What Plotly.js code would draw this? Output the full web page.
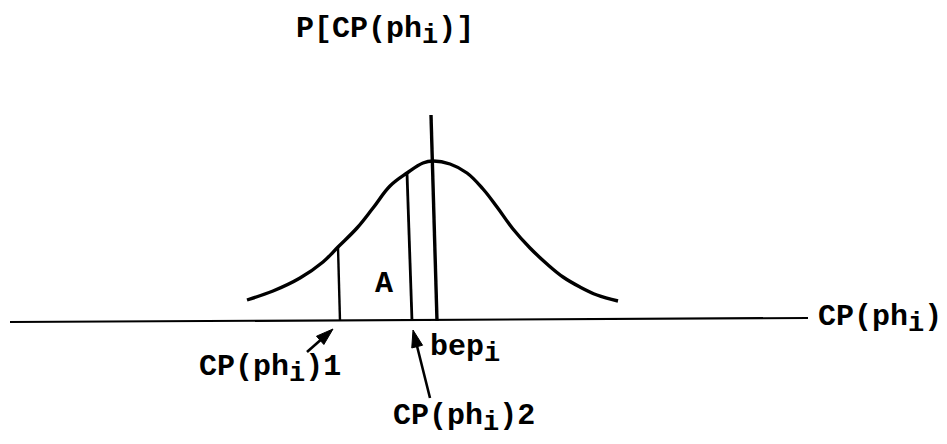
<!DOCTYPE html>
<html>
<head>
<meta charset="utf-8">
<script src="https://cdn.plot.ly/plotly-3.0.1.min.js"></script>
<style>
  html, body { margin: 0; padding: 0; background: #ffffff; }
  #chart { width: 947px; height: 444px; }
</style>
</head>
<body>
<div id="chart"></div>
<script>
// Bell curve (x position, height above the horizontal axis)
var curveX = [247, 273, 300, 323, 338, 357, 373, 390, 407, 423, 433, 450, 467, 483, 497, 513, 530, 547, 563, 580, 597, 618];
var curveY = [21, 30, 43, 59, 74, 93, 113, 135, 148, 158, 160, 157, 148, 132, 114, 92, 73, 57, 44, 34, 26, 20];

// Horizontal axis CP(ph_i)
var axisX = [10, 808];
var axisY = [-1, 3];

// Vertical markers
var cp1X = [338, 340];
var cp1Y = [74, 0];
var cp2X = [407, 412];
var cp2Y = [148, 0];
var bepX = [431, 437];
var bepY = [206, 0];

// Text labels
var SUB = '<sub><span style="font-size:27px">i</span></sub>';
var labelText = ['P[CP(ph' + SUB + ')]', 'CP(ph' + SUB + ')', 'CP(ph' + SUB + ')1', 'bep' + SUB, 'CP(ph' + SUB + ')2', 'A'];
var labelX = [294, 816, 197, 428, 391, 373];
var labelY = [290, 2, -48, -28, -97, 37];

// Arrows: tail -> head
var arrowTailX = [307, 430];
var arrowTailY = [-31, -77];
var arrowHeadX = [333, 413];
var arrowHeadY = [-8, -9];

var FONT = 'Courier New, Liberation Mono, monospace';

function seg(x, y, w) {
  return {x: x, y: y, type: 'scatter', mode: 'lines',
          line: {color: '#000000', width: w}, hoverinfo: 'skip', showlegend: false};
}

var traces = [
  seg(axisX, axisY, 2.2),
  Object.assign(seg(curveX, curveY, 3.4), {line: {color: '#000000', width: 3.4, shape: 'spline', smoothing: 1.1}}),
  seg(cp1X, cp1Y, 2.4),
  seg(cp2X, cp2Y, 2.8),
  seg(bepX, bepY, 3.4)
];

for (var j = 0; j < arrowTailX.length; j++) {
  traces.push({
    x: [arrowTailX[j], arrowHeadX[j]], y: [arrowTailY[j], arrowHeadY[j]],
    type: 'scatter', mode: 'lines+markers',
    line: {color: '#000000', width: 2.6},
    marker: {symbol: 'arrow', size: [0, 18], angleref: 'previous', color: '#000000', opacity: 1, line: {width: 1, color: '#000000'}},
    hoverinfo: 'skip', showlegend: false
  });
}

var annotations = [];
for (var i = 0; i < labelText.length; i++) {
  annotations.push({
    x: labelX[i], y: labelY[i], xref: 'x', yref: 'y',
    text: labelText[i], showarrow: false,
    xanchor: 'left', yanchor: 'middle',
    font: {family: FONT, size: 30, color: '#000000', weight: 'bold'}
  });
}

var layout = {
  width: 947, height: 444,
  margin: {l: 0, r: 0, t: 0, b: 0},
  paper_bgcolor: '#ffffff', plot_bgcolor: '#ffffff',
  showlegend: false,
  xaxis: {range: [0, 947], visible: false, fixedrange: true},
  yaxis: {range: [-123, 321], visible: false, fixedrange: true},
  annotations: annotations
};

Plotly.newPlot('chart', traces, layout, {staticPlot: true, displayModeBar: false});
</script>
</body>
</html>
